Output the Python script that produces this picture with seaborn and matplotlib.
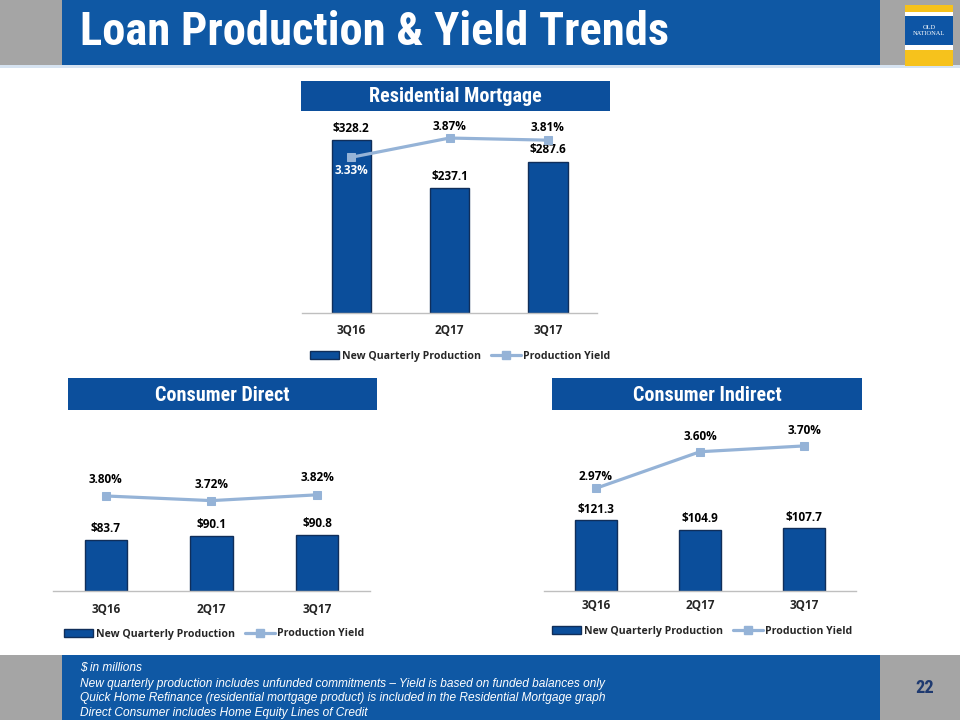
import numpy as np
import pandas as pd
import matplotlib
matplotlib.use("Agg")
import matplotlib.pyplot as plt
import seaborn as sns
from matplotlib.patches import Rectangle, Patch
from matplotlib.lines import Line2D
from matplotlib import font_manager as fm

# ---------------- data ----------------
quarters = ["3Q16", "2Q17", "3Q17"]
res_production = [328.2, 237.1, 287.6]
res_yield = [3.33, 3.87, 3.81]
direct_production = [83.7, 90.1, 90.8]
direct_yield = [3.80, 3.72, 3.82]
indirect_production = [121.3, 104.9, 107.7]
indirect_yield = [2.97, 3.60, 3.70]
legend_labels = ["New Quarterly Production", "Production Yield"]
title = "Loan Production & Yield Trends"
panel_titles = ["Residential Mortgage", "Consumer Direct", "Consumer Indirect"]
footnotes = [
    "$ in millions",
    "New quarterly production includes unfunded commitments \u2013 Yield is based on funded balances only",
    "Quick Home Refinance (residential mortgage product) is included in the Residential Mortgage graph",
    "Direct Consumer includes Home Equity Lines of Credit",
]
page_number = "22"

# ---------------- style ----------------
sns.set_theme(style="white")
names = {f.name for f in fm.fontManager.ttflist}
NARROW = None
for cand in ["Liberation Sans Narrow", "Arial Narrow", "Roboto Condensed",
             "Open Sans Condensed", "Noto Sans Condensed"]:
    if cand in names:
        NARROW = cand
        break
if NARROW is None:
    NARROW = "Liberation Sans"
    SCALE = 0.86
else:
    SCALE = 1.0
plt.rcParams["font.family"] = ["Open Sans", "DejaVu Sans"]

BAR = "#0B4E9B"
EDGE = "#102E5A"
LINE = "#95B3D7"
HEAD = "#0F58A4"
BOX = "#0C4F9C"
GREY = "#A5A5A5"

W, H = 960, 720
fig = plt.figure(figsize=(9.6, 7.2), dpi=100)
fig.patch.set_facecolor("white")


def fx(x):
    return x / W


def fy(y):
    return 1 - y / H


def rect_px(x0, y0, x1, y1, color, z=1, **kw):
    fig.add_artist(Rectangle((fx(x0), fy(y1)), (x1 - x0) / W, (y1 - y0) / H,
                             transform=fig.transFigure, facecolor=color,
                             edgecolor="none", zorder=z, **kw))


# header
rect_px(0, 0, 960, 65, GREY)
rect_px(62, 0, 880, 65, HEAD)
rect_px(0, 65, 960, 68, "#D6E3F1")
fig.text(fx(80), fy(45), title, fontsize=33.5 * SCALE, family=NARROW, weight="bold",
         color="white", va="baseline", ha="left", zorder=5)
# logo
rect_px(905, 5, 953, 66, "#F6C21C", z=2)
rect_px(905, 12, 953, 16, "white", z=3)
rect_px(905, 16, 953, 45, "#0D55A5", z=3)
rect_px(905, 45, 953, 50, "white", z=3)
fig.text(fx(929), fy(30.5), "OLD\nNATIONAL", fontsize=4.6, family="Liberation Serif",
         color="white", ha="center", va="center", linespacing=1.1, zorder=5)

# footer
rect_px(0, 655, 960, 720, GREY)
rect_px(62, 655, 880, 720, HEAD)
for yb, line in zip([671, 686.5, 701.5, 716], footnotes):
    fig.text(fx(80), fy(yb), line, fontsize=8.6, family="Liberation Sans",
             style="italic", color="white", va="baseline", ha="left", zorder=5)
fig.text(fx(925), fy(693), page_number, fontsize=13.2, family=NARROW, weight="bold",
         color="#1F3A70", ha="center", va="baseline", zorder=5)

# section header boxes
boxes = [(301, 81, 610, 111), (68, 378, 377, 410), (552, 378, 862, 410)]
for (x0, y0, x1, y1), t in zip(boxes, panel_titles):
    rect_px(x0, y0, x1, y1, BOX)
    fig.text(fx((x0 + x1) / 2), fy((y0 + y1) / 2 + 1), t, fontsize=14.5 * SCALE,
             family=NARROW, weight="bold", color="white", ha="center", va="center",
             zorder=5)


def panel(axpx, prod, yld, bar_top, line_lim, bar_off, yld_offs, yld_colors,
          tick_pad, legend_xy):
    x0, y0, x1, y1 = axpx
    ax = fig.add_axes([fx(x0), fy(y1), (x1 - x0) / W, (y1 - y0) / H])
    df = pd.DataFrame({"Quarter": quarters, "Production": prod})
    sns.barplot(data=df, x="Quarter", y="Production", ax=ax, color=BAR,
                saturation=1, width=0.4, edgecolor=EDGE, linewidth=1.0)
    ax.set_xlim(-0.5, len(quarters) - 0.5)
    ax.set_ylim(0, bar_top)
    ax.set_xlabel("")
    ax.set_ylabel("")
    ax.set_yticks([])
    for s in ["left", "right", "top"]:
        ax.spines[s].set_visible(False)
    ax.spines["bottom"].set_color("#BFBFBF")
    ax.spines["bottom"].set_linewidth(1.0)
    ax.tick_params(axis="x", length=0, pad=tick_pad, labelsize=8.5)
    for lbl in ax.get_xticklabels():
        lbl.set_fontweight("bold")
    ax.patch.set_alpha(0)
    for i, v in enumerate(prod):
        ax.annotate(f"${v:.1f}", (i, v), xytext=(0, bar_off), textcoords="offset points",
                    ha="center", va="center", fontsize=8.5, fontweight="bold",
                    color="black")

    ax2 = ax.twinx()
    sns.lineplot(x=np.arange(len(quarters)), y=yld, ax=ax2, color=LINE, linewidth=2.3,
                 marker="s", markersize=6.3, markeredgecolor=LINE, legend=False)
    ax2.set_ylim(*line_lim)
    ax2.set_yticks([])
    ax2.set_ylabel("")
    for s in ax2.spines.values():
        s.set_visible(False)
    for i, v in enumerate(yld):
        ax2.annotate(f"{v:.2f}%", (i, v), xytext=(0, yld_offs[i]), textcoords="offset points",
                     ha="center", va="center", fontsize=8.5, fontweight="bold",
                     color=yld_colors[i])

    handles = [Patch(facecolor=BAR, edgecolor=EDGE, linewidth=1.0),
               Line2D([], [], color=LINE, lw=2.3, marker="s", markersize=6.3)]
    fig.legend(handles, legend_labels, loc="center",
               bbox_to_anchor=(fx(legend_xy[0]), fy(legend_xy[1])), ncol=2,
               frameon=False, handlelength=2.8, handleheight=0.8, handletextpad=0.2,
               columnspacing=1.0, prop={"weight": "bold", "size": 7.6})
    return ax


# Residential Mortgage
panel((302, 115, 597, 313.3), res_production, res_yield, 376.3, (-1.04, 4.515),
      8.6, [-9.8, 8.2, 9.0], ["white", "black", "black"], 8.0, (460, 356.5))
# Consumer Direct
panel((53, 440, 370, 590.7), direct_production, direct_yield, 247.0, (2.167, 4.765),
      8.2, [12.2, 11.3, 12.2], ["black"] * 3, 8.5, (214, 634))
# Consumer Indirect
panel((544, 420, 856, 591), indirect_production, indirect_yield, 293.3, (1.199, 4.147),
      8.0, [8.4, 10.8, 10.8], ["black"] * 3, 5.8, (702, 631.5))

fig.savefig("out.png", dpi=100)
